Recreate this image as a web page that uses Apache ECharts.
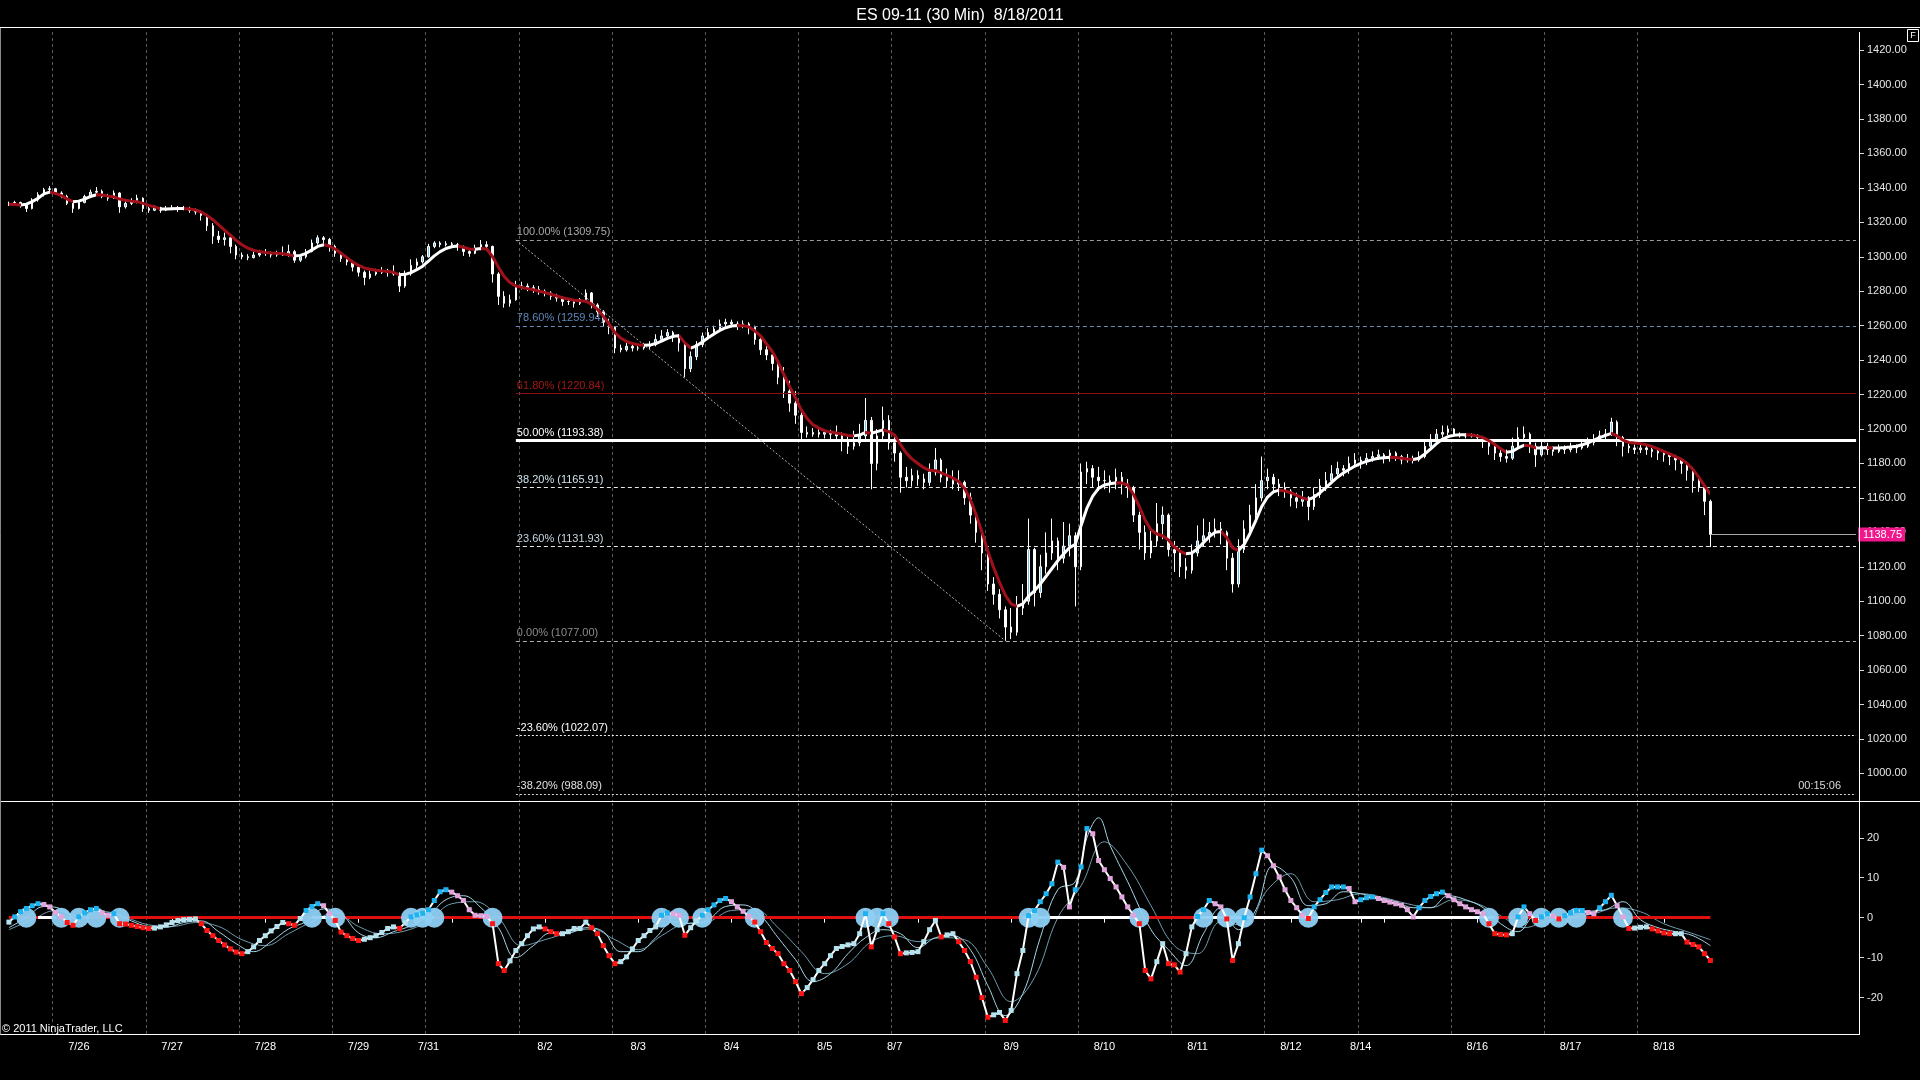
<!DOCTYPE html>
<html>
<head>
<meta charset="utf-8">
<title>ES 09-11 (30 Min) 8/18/2011</title>
<script src="https://cdn.jsdelivr.net/npm/echarts@6.0.0/dist/echarts.min.js"></script>
<style>
html, body { margin: 0; padding: 0; background: #000; }
#chart { width: 1920px; height: 1080px; }
</style>
</head>
<body>
<div id="chart"></div>
<script>
var FONT = '"Liberation Sans", Arial, sans-serif';

// price bars [open, high, low, close], one per bar from 7/25 evening to 8/18
var bars = [
[1330.5,1332,1329.5,1331],[1331,1332.5,1330,1331.5],[1331.5,1332,1328.5,1330],[1330,1331,1326,1328],[1328,1334,1327.5,1333],[1333,1337.5,1332,1336],[1336,1340,1335,1339],[1339,1341,1337.5,1339.5],
[1339.5,1340,1336,1337],[1337,1338,1334,1335],[1335,1336,1330,1331],[1331,1332,1325.5,1328],[1328,1333,1327.5,1331.5],[1331.5,1336,1331,1335],[1335,1339,1334,1337.5],[1337.5,1340.5,1336.5,1338],
[1338,1339,1334,1335],[1335,1336.5,1332.5,1334],[1334,1338.5,1333.5,1337],[1337,1337.5,1325.5,1329],[1329,1332.5,1328,1331],[1331,1334,1330,1332],[1332,1336,1331,1334],[1334,1334.5,1326,1328],
[1328,1330,1325.5,1327],[1327,1330,1326.5,1328.5],[1328.5,1329,1325.5,1327],[1327,1329.5,1326.5,1328],[1328,1330,1327,1328.5],[1328.5,1329.5,1326,1327.5],[1327.5,1329.5,1327,1328],[1328,1329,1325.5,1327],
[1327,1328,1324.5,1326],[1326,1327,1321,1324],[1324,1324.5,1315,1318],[1318,1319.5,1307.5,1312],[1312,1315,1308,1310],[1310,1314,1306.5,1311],[1311,1312,1302,1306],[1306,1307,1298.5,1301],
[1301,1302.5,1298.5,1300],[1300,1301.5,1298,1299.5],[1299.5,1303,1299,1301],[1301,1304,1300,1302],[1302,1304.5,1300.5,1302.5],[1302.5,1303,1299.5,1301],[1301,1303.5,1300,1302],[1302,1306,1300.5,1301],
[1301,1307,1300,1303],[1303,1304,1296.5,1298],[1298,1301.5,1297,1300],[1300,1304.5,1299,1303],[1303,1310,1302.5,1308],[1308,1312.5,1307,1311],[1311,1312,1308,1310],[1310,1311,1303,1306],
[1306,1307,1300,1302],[1302,1303,1297,1299],[1299,1300.5,1295,1297],[1297,1298,1291.5,1294],[1294,1295,1288.5,1291],[1291,1292,1283.5,1288],[1288,1292,1287,1290],[1290,1293,1289,1291],
[1291,1294,1290,1292],[1292,1293,1288.5,1291],[1291,1295,1289,1290],[1290,1291,1279.5,1283],[1283,1292,1282,1290],[1290,1298.5,1289,1295],[1295,1299,1293,1297],[1297,1301,1296,1300],
[1300,1307.5,1299.5,1306],[1306,1309,1305,1308],[1308,1309,1305.5,1307],[1307,1309,1306,1307.5],[1307.5,1308.5,1305.5,1307],[1307,1308,1303.5,1306],[1306,1306.5,1300.5,1303],[1303,1304.5,1300,1302],
[1302,1307,1301.5,1305],[1305,1309.75,1304,1307],[1307,1309,1304.5,1306],[1306,1306.5,1285,1290],[1290,1291,1272,1277],[1277,1280,1270.5,1273],[1273,1278,1271,1275],[1275,1286,1274.5,1283],
[1283,1285.5,1281,1283],[1283,1284.5,1280,1282],[1282,1283.5,1279,1281],[1281,1283,1278,1280],[1280,1281,1277,1279],[1279,1280,1275,1277],[1277,1278.5,1274,1276],[1276,1277,1271.5,1274],
[1274,1276,1272,1274],[1274,1275,1270.5,1273],[1273,1276,1272,1275],[1275,1281,1274,1279],[1279,1279.5,1270,1272],[1272,1273,1265,1268],[1268,1269,1259.5,1262],[1262,1264,1255,1259],
[1259,1259.5,1244,1247],[1247,1249,1244.5,1246],[1246,1250,1245,1248],[1248,1249.5,1245,1247],[1247,1249,1245.5,1247],[1247,1250,1246,1248],[1248,1251,1246.5,1249],[1249,1255,1248,1252],
[1252,1257.5,1251,1254],[1254,1258,1252.5,1256],[1256,1257,1250.5,1253],[1253,1255,1245,1250],[1250,1251,1230,1235],[1235,1245,1233,1242],[1242,1251,1240,1249],[1249,1256,1247.5,1254],
[1254,1258.5,1253,1256],[1256,1260,1254.5,1258],[1258,1263.5,1257,1261],[1261,1264,1259.5,1262],[1262,1263.5,1259,1261],[1261,1262.5,1257.5,1260],[1260,1263,1258.5,1261],[1261,1262,1255,1259],
[1259,1260,1249,1252],[1252,1254,1243,1246],[1246,1249,1240,1243],[1243,1245,1234,1238],[1238,1240,1226,1230],[1230,1236,1218,1222],[1222,1228,1210,1215],[1215,1222,1203,1208],
[1208,1210,1194,1198],[1198,1201.5,1195,1197],[1197,1200.5,1195.5,1198],[1198,1201,1195,1197],[1197,1200,1194.5,1198],[1198,1199.5,1194,1197],[1197,1202,1193.5,1196],[1196,1198,1187,1193],
[1193,1197,1185.5,1190],[1190,1199,1188,1192],[1192,1203,1190,1196],[1196,1218,1194,1205],[1205,1207,1165,1180],[1180,1200,1176,1196],[1196,1213,1193,1205],[1205,1208,1188,1192],
[1192,1196,1181,1186],[1186,1187,1163,1172],[1172,1178,1166,1170],[1170,1177,1166.5,1173],[1173,1176,1167,1171],[1171,1174,1165,1169],[1169,1180,1167,1175],[1175,1189,1173,1182],
[1182,1183,1169,1172],[1172,1177,1166,1170],[1170,1176,1165,1168],[1168,1176,1164,1169],[1169,1170,1156,1160],[1160,1163,1145,1150],[1150,1152,1134,1140],[1140,1143,1118,1128],
[1128,1131,1106,1110],[1110,1114,1098,1104],[1104,1107,1090,1095],[1095,1097,1077,1085],[1085,1096,1078,1082],[1082,1103,1080,1096],[1096,1110,1092,1100],[1100,1148,1098,1130],
[1130,1131,1097,1105],[1105,1127,1102,1120],[1120,1140,1116,1128],[1128,1148,1124,1135],[1135,1137,1118,1125],[1125,1146,1122,1132],[1132,1145,1126,1138],[1138,1140,1097,1120],
[1120,1180,1118,1175],[1175,1181,1168,1177],[1177,1179,1166,1172],[1172,1178,1164,1170],[1170,1176,1165,1170],[1170,1173,1163,1168],[1168,1177,1165,1172],[1172,1175,1162,1168],
[1168,1171,1160,1166],[1166,1167,1146,1150],[1150,1152,1130,1140],[1140,1144,1124,1128],[1128,1142,1125,1135],[1135,1157,1132,1145],[1145,1155,1136,1150],[1150,1151,1126,1130],
[1130,1135,1117,1128],[1128,1131,1114,1120],[1120,1125,1113,1118],[1118,1133,1116,1128],[1128,1144,1126,1135],[1135,1148,1132,1138],[1138,1146,1134,1140],[1140,1148,1137,1142],
[1142,1146,1133,1140],[1140,1141,1118,1125],[1125,1128,1105,1110],[1110,1136,1108,1130],[1130,1147,1128,1142],[1142,1156,1140,1150],[1150,1168,1147,1160],[1160,1184,1158,1170],
[1170,1177,1165,1172],[1172,1174,1163,1168],[1168,1171,1161,1166],[1166,1169,1160,1164],[1164,1165,1155,1160],[1160,1163,1154,1158],[1158,1164,1155,1160],[1160,1161,1147,1155],
[1155,1166,1153,1162],[1162,1171,1160,1167],[1167,1175,1164,1170],[1170,1179,1168,1174],[1174,1181,1172,1177],[1177,1179,1172.5,1176],[1176,1184,1174,1180],[1180,1186,1178,1182],
[1182,1184,1177,1181],[1181,1186,1179,1183],[1183,1187,1181,1184],[1184,1188,1182,1185],[1185,1186,1180,1183],[1183,1188,1181,1186],[1186,1187,1181.5,1184],[1184,1185,1179.5,1182],
[1182,1185.5,1180.5,1183],[1183,1184.5,1180,1182],[1182,1187,1181,1184],[1184,1193,1183,1190],[1190,1197,1188.5,1194],[1194,1200,1192,1197],[1197,1202,1195,1198],[1198,1202,1196.5,1200],
[1200,1200.5,1195.5,1197],[1197,1198,1195,1196],[1196,1197.5,1194.5,1196],[1196,1197.5,1195,1196],[1196,1197,1193,1195],[1195,1196,1189,1193],[1193,1194,1185,1190],[1190,1192,1182,1186],
[1186,1189,1181,1184],[1184,1188,1180.5,1183],[1183,1195,1182,1190],[1190,1201,1188,1195],[1195,1201.5,1193,1197],[1197,1198,1186,1190],[1190,1192,1178,1185],[1185,1194,1184,1190],
[1190,1192,1185,1188],[1188,1190,1184.5,1187],[1187,1191,1186,1189],[1189,1190.5,1185.5,1188],[1188,1192,1186.5,1190],[1190,1191,1186,1189],[1189,1193,1188,1190],[1190,1195,1189,1192],
[1192,1197,1190.5,1194],[1194,1199,1193,1196],[1196,1200,1194,1197],[1197,1206.5,1196,1204],[1204,1205,1190,1195],[1195,1196,1184,1190],[1190,1193,1186,1189],[1189,1191,1185.5,1188],
[1188,1192,1186,1189],[1189,1190.5,1185,1188],[1188,1189.5,1183.5,1187],[1187,1188,1182,1186],[1186,1187.5,1181,1185],[1185,1186,1179,1184],[1184,1185,1176,1182],[1182,1183,1174,1180],
[1180,1181,1170,1176],[1176,1178,1163,1170],[1170,1173,1163.5,1166],[1166,1168,1150,1158],[1158,1159,1131.5,1138.75]
];

// moving average drawn over the bars
var ma = [
1330.5,1330.3,1330,1330.5,1332,1334,1336.5,1337.5,1336.8,1335.5,
1333.5,1332,1332.3,1333.5,1335,1336,1335.8,1335.2,1334.8,1333.5,
1332.8,1332.3,1332,1331,1329.8,1329,1327.8,1327.8,1327.9,1328,
1328,1327.8,1327.2,1326,1324,1321.5,1318.5,1315.5,1312.5,1309.5,
1307,1305,1303.8,1303,1302.5,1302.2,1302,1301.8,1301.2,1300.5,
1300.8,1302,1304,1306,1307,1306.2,1304.5,1302,1299.5,1297,
1295,1293.5,1292.8,1292.2,1291.8,1291.4,1291,1289.5,1289.8,1290.8,
1292.5,1294.5,1297.5,1300.5,1303,1304.8,1305.8,1306.2,1305.5,1304.5,
1304.3,1304.8,1304.5,1300,1294,1288.5,1285,1283,1282.2,1281.5,
1280.8,1280,1279.2,1278.2,1277.2,1276.2,1275.5,1274.8,1274.4,1274.2,
1272.5,1269.5,1265.5,1261,1256,1252.8,1250.8,1249.6,1248.9,1248.6,
1248.7,1249.6,1251,1252.6,1253.8,1254.2,1250,1247,1248.3,1250.5,
1253,1255.2,1257.2,1258.8,1259.8,1260.1,1260,1259.2,1257,1254,
1249.5,1245,1239,1231.5,1224.5,1218,1211,1206,1202.5,1200.5,
1199,1198.2,1197.7,1197,1196.2,1196,1196.5,1198,1197.5,1198.5,
1199.5,1198.5,1196.5,1191,1186,1182.5,1180,1177.5,1176,1175.8,
1174.5,1173,1171.5,1169.5,1165.5,1159,1150,1140,1129,1119.5,
1111,1103.5,1098.5,1097,1098.5,1103,1106,1110,1114.5,1119,
1123.5,1127.5,1131,1133,1144,1154,1161,1165.5,1167.5,1168.2,
1168.8,1168.6,1167.5,1162,1155,1147,1141.5,1139,1138,1135.5,
1131.5,1129,1127.5,1128,1130.5,1134,1137.5,1140,1140.5,1137,
1131,1129.5,1133,1139.5,1147,1155,1160.5,1163.5,1164.5,1164,
1163,1161.5,1160,1159,1160.5,1163,1166,1169,1172,1174.5,
1176.5,1178.5,1180,1181.2,1182.2,1183,1183.3,1183.6,1183.5,1183,
1182.5,1182.3,1183,1185.5,1188.5,1191.5,1194,1195.6,1196.3,1196.6,
1196.7,1196.5,1196,1195,1193.2,1191,1188.5,1186.5,1187,1189,
1190.5,1190.3,1189,1189,1189.2,1189,1189,1189.2,1189.5,1190,
1190.8,1192,1193.5,1195,1196.3,1197.5,1196,1193.5,1192.2,1191.8,
1191.5,1190.8,1189.8,1188.5,1187,1185.5,1184,1182.5,1180,1176.5,
1172,1167,1162
];

// lower panel oscillator
var osc = [
-1.1,0.2,1.5,2.3,3,3.5,3.3,2.7,1.3,0.2,
-1.2,-1.9,0.2,1.2,2,2.3,1.2,0.6,1,-1.5,
-1.6,-1.9,-2.2,-2.5,-2.7,-2.6,-2.3,-1.8,-1.2,-0.7,
-0.5,-0.4,-0.3,-1.5,-3.2,-4.5,-5.7,-6.8,-7.8,-8.6,
-9,-8.5,-7.3,-5.7,-4.5,-3.3,-2.2,-1.2,-1.5,-1.9,
-0.2,1.8,2.8,3.5,3,1,-0.7,-3.6,-4.5,-5.2,
-5.7,-5.4,-5,-4.5,-3.7,-2.7,-2.3,-2.7,-1.3,0.2,
0.7,1.1,2,4.3,6.5,7,6.4,5.5,4.3,2,
0.6,0.5,0.3,-1.5,-11.5,-13.2,-10.8,-8.2,-6.5,-4.5,
-2.8,-2.3,-2.8,-3.5,-4,-4,-3.5,-2.7,-2.7,-1.1,
-2.5,-4,-7,-9.5,-11.5,-11,-9.8,-7.8,-5.7,-4.5,
-3.2,-2.3,0.6,1.2,1,0.6,-4.4,-2.5,-0.8,0.6,
2,3.2,4.3,4.8,4,2.7,1.6,0.3,-1.1,-3.5,
-6.2,-7.7,-9,-11.5,-13.2,-16,-19,-17.5,-15.5,-13.2,
-11.5,-9.5,-7.7,-7.2,-6.8,-6.5,-4,1,-7.3,-3,
1,-1.5,-4.8,-9,-8.8,-8.7,-8.5,-6,-3,-0.7,
-4.8,-4.3,-4,-6,-8.2,-11,-14.9,-20,-24.9,-24.3,
-23.7,-25.7,-23.2,-14,-8.2,0.5,1.8,4,6,8.5,
13.9,12.6,2.7,7,12.7,22.3,21,14.3,12,9.8,
7.7,5.2,2.7,0.6,-1.5,-13.2,-15.3,-11,-6.5,-11.5,
-11.8,-13.6,-9,-2.3,0.3,2,4.3,3.5,2.7,-0.3,
-10.7,-6.5,0,5.2,11,16.9,15.5,13,10.2,7,
4.3,2.5,0.6,-0.2,2.7,4.5,6.3,7.7,7.7,7.7,
7.3,4,4.5,5,5.2,4.8,4.3,3.9,3.5,3.1,
2,0.2,2.5,4.3,5.3,6,6.4,5.5,4.5,3.5,
2.7,2,1.5,1,-1.5,-4,-4.2,-4.3,-4,0.2,
2.7,1,-0.7,0.2,1,0.4,-0.3,0.5,1.2,1.8,
1.8,1.3,1,2.5,4,5.6,3,0.2,-2.7,-2.6,
-2.4,-2.3,-2.8,-3.3,-3.8,-4,-4,-4,-6.1,-6.7,
-7.3,-9,-10.7
];

// the two thin signal lines of the oscillator, [bar, value]
var sigFast = [[0,-2.5],[3,0],[6,2.8],[9,2.2],[12,-0.5],[15,1.5],[18,1.2],[21,-0.8],[24,-2.2],[27,-2.4],[30,-1.2],[33,-0.8],[36,-3.5],[39,-6.5],[42,-8.5],[45,-6],[48,-2.8],[51,-1],[54,2.2],[57,1],[60,-3.8],[63,-5],[66,-3.5],[69,-2],[72,0.5],[75,4.5],[78,5.5],[81,2.5],[84,-2.5],[87,-10],[90,-7],[93,-3.8],[96,-3.8],[99,-2.5],[102,-3.5],[105,-8.5],[108,-8.5],[111,-5],[114,-1],[117,-1.5],[120,-0.5],[123,2.8],[126,3.2],[129,0.5],[132,-5],[135,-10.5],[138,-16],[141,-14],[144,-9],[147,-5],[150,-3],[153,-4],[156,-7.5],[159,-5],[162,-4.5],[165,-8],[168,-17],[171,-24.5],[174,-19],[177,-5],[180,7],[183,9],[185,20],[187,25],[189,18],[192,9],[196,-3],[199,-8],[202,-12],[205,-4],[208,2.5],[211,-3],[214,2],[217,13],[220,10],[223,3],[226,3.5],[229,6.5],[232,6],[235,5],[238,4],[241,2.5],[244,2.5],[247,5.5],[250,4.5],[253,2.5],[256,-1.5],[259,-3.5],[262,0.5],[265,0.3],[268,0],[271,1.5],[274,2],[277,4],[280,-0.5],[283,-2.5],[286,-3.5],[289,-4.5],[292,-7]];
var sigSlow = [[0,-3],[4,-0.5],[8,1.8],[12,0.5],[16,0.8],[20,0],[24,-1.8],[28,-2.2],[32,-1.2],[36,-2.2],[40,-5.5],[44,-7],[48,-4],[52,-1],[56,1.2],[60,-2.2],[64,-4],[68,-3.3],[72,-0.8],[76,3.5],[80,4],[84,0],[88,-7],[92,-5.5],[96,-3.8],[100,-2.8],[104,-5.5],[108,-8],[112,-4.5],[116,-1.5],[120,-1],[124,1.8],[128,2],[132,-2.5],[136,-8.5],[140,-14],[144,-11.5],[148,-6],[152,-4.5],[156,-6],[160,-5],[164,-5.5],[168,-12.5],[172,-21],[176,-15],[180,0],[184,8],[188,19],[192,13],[196,3],[200,-7],[204,-9],[208,-1],[212,-2],[216,7],[220,11],[224,4],[228,4.5],[232,6],[236,5],[240,3.5],[244,2.5],[248,4.5],[252,3.5],[256,0.5],[260,-2.5],[264,-0.8],[268,0],[272,1],[276,2.5],[280,1.5],[284,-1.5],[288,-3.5],[292,-5.5]];

// zero crossings marked with a bubble, and the stretches where the zero line is white
var crossIdx = [3,9,12,15,19,52,56,69,71,73,83,112,115,119,128,147,149,151,175,177,194,205,209,212,223,254,259,263,266,269,277];
var zeroWhite = [[5,8],[52,56],[70,73],[174,193],[204,255]];

// fibonacci retracement from the 1309.75 high to the 1077.00 low
var fibPct = [100, 78.6, 61.8, 50, 38.2, 23.6, 0, -23.6, -38.2];
var fibPrice = [1309.75, 1259.94, 1220.84, 1193.38, 1165.91, 1131.93, 1077.00, 1022.07, 988.09];
var fibFrom = 87, fibTo = 171;
var lastPrice = 1138.75;

// x axis
var sessionStarts = [8,24,40,56,72,88,104,120,136,152,168,184,200,216,232,248,264,280];
var labelIdx = [12,28,44,60,72,76,92,108,124,140,152,156,172,188,204,220,232,236,252,268,284];
var labelTxt = ['7/26','7/27','7/28','7/29','7/31','','8/2','8/3','8/4','8/5','8/7','','8/9','8/10','8/11','8/12','8/14','','8/16','8/17','8/18'];
var slotCount = 318;

var fibStyle = [
    {line: '#9a9a9a', text: '#a8a8a8', type: [4, 3], width: 1},
    {line: '#6a8cb4', text: '#5f86b8', type: [4, 3], width: 1},
    {line: '#8b1010', text: '#a31818', type: 'solid', width: 1},
    {line: '#ffffff', text: '#ffffff', type: 'solid', width: 3},
    {line: '#e8e8e8', text: '#cfe2ec', type: [4, 3], width: 1},
    {line: '#e8e8e8', text: '#c8d6e0', type: [4, 3], width: 1},
    {line: '#b0b0b0', text: '#8c8c8c', type: [4, 3], width: 1},
    {line: '#f0f0f0', text: '#ffffff', type: [2, 2], width: 1},
    {line: '#d8d8d8', text: '#e0e0e0', type: [2, 2], width: 1}
];

var cats = [];
for (var i = 0; i < slotCount; i++) cats.push(String(i));

function isSession(idx) { return sessionStarts.indexOf(idx) >= 0; }
function isLabel(idx) { return labelIdx.indexOf(idx) >= 0; }

// MA colour: white while rising, dark red while falling
function trendPieces(vals, upColor, downColor) {
    var pieces = [];
    var start = 0;
    var up = vals[1] >= vals[0];
    for (var i = 2; i < vals.length; i++) {
        var u = vals[i] >= vals[i - 1];
        if (u !== up) {
            pieces.push({gte: start, lt: i - 1, color: up ? upColor : downColor});
            start = i - 1;
            up = u;
        }
    }
    pieces.push({gte: start, lte: vals.length - 1, color: up ? upColor : downColor});
    return pieces;
}

function oscColor(i) {
    var v = osc[i];
    var prev = i > 0 ? osc[i - 1] : v;
    var rising = v >= prev;
    if (v >= 0) return rising ? '#1db2f0' : '#e2a4dc';
    return rising ? '#b4e2ee' : '#ff1414';
}

var candles = bars.map(function (b) { return [b[0], b[3], b[2], b[1]]; });

var fibLines = [];
for (var f = 0; f < fibPct.length; f++) {
    var st = fibStyle[f];
    fibLines.push([
        {
            coord: [fibFrom, fibPrice[f]],
            lineStyle: {color: st.line, type: st.type, width: st.width},
            label: {
                show: true, position: 'insideStartTop', distance: [1, 2],
                formatter: fibPct[f].toFixed(2) + '% (' + fibPrice[f].toFixed(2) + ')',
                color: st.text, fontSize: 11, fontFamily: FONT
            }
        },
        {coord: [slotCount - 1, fibPrice[f]]}
    ]);
}
fibLines.push([
    {coord: [fibFrom, fibPrice[0]], lineStyle: {color: '#b4b4b4', type: [2, 2], width: 1}, label: {show: false}},
    {coord: [fibTo, fibPrice[6]]}
]);

var zeroLines = [[
    {coord: [0, 0], lineStyle: {color: '#e01010', width: 3, type: 'solid'}},
    {coord: [osc.length - 1, 0]}
]];
zeroWhite.forEach(function (r) {
    zeroLines.push([
        {coord: [r[0], 0], lineStyle: {color: '#ffffff', width: 3, type: 'solid'}},
        {coord: [r[1], 0]}
    ]);
});

var chart = echarts.init(document.getElementById('chart'));

var option = {
    backgroundColor: '#000000',
    animation: false,
    title: {
        text: 'ES 09-11 (30 Min)  8/18/2011',
        left: 'center',
        top: 3,
        textStyle: {color: '#ffffff', fontSize: 16, fontWeight: 'normal', fontFamily: FONT}
    },
    grid: [
        {left: 6, right: 61, top: 32, height: 769},
        {left: 6, right: 61, top: 803, height: 231}
    ],
    xAxis: [
        {
            gridIndex: 0, type: 'category', data: cats, boundaryGap: true,
            axisLine: {show: false}, axisTick: {show: false}, axisLabel: {show: false},
            splitLine: {show: true, interval: isSession, lineStyle: {color: '#5a5a5a', type: [3, 3], width: 1}}
        },
        {
            gridIndex: 1, type: 'category', data: cats, boundaryGap: true,
            axisLine: {show: false},
            axisTick: {show: true, alignWithLabel: true, interval: isLabel, length: 5, lineStyle: {color: '#ffffff'}},
            axisLabel: {
                show: true, interval: isLabel, margin: 7, color: '#ffffff', fontSize: 11, fontFamily: FONT,
                formatter: function (val, idx) {
                    var k = labelIdx.indexOf(idx);
                    return k >= 0 ? labelTxt[k] : '';
                }
            },
            splitLine: {show: true, interval: isSession, lineStyle: {color: '#5a5a5a', type: [3, 3], width: 1}}
        }
    ],
    yAxis: [
        {
            gridIndex: 0, type: 'value', position: 'right', min: 984, max: 1430.5,
            minInterval: 20, maxInterval: 20,
            axisLine: {show: false},
            axisTick: {show: true, length: 5, lineStyle: {color: '#d8d8d8'}},
            axisLabel: {
                color: '#e6e6e6', fontSize: 11, fontFamily: FONT, margin: 8,
                showMinLabel: false, showMaxLabel: false,
                formatter: function (v) { return v.toFixed(2); }
            },
            splitLine: {show: false}
        },
        {
            gridIndex: 1, type: 'value', position: 'right', min: -29.1, max: 28.7,
            minInterval: 10, maxInterval: 10,
            axisLine: {show: false},
            axisTick: {show: true, length: 5, lineStyle: {color: '#d8d8d8'}},
            axisLabel: {color: '#e6e6e6', fontSize: 11, fontFamily: FONT, margin: 8, showMinLabel: false, showMaxLabel: false},
            splitLine: {show: false}
        }
    ],
    visualMap: [{
        type: 'piecewise', show: false, seriesIndex: 1, dimension: 0,
        pieces: trendPieces(ma, '#ffffff', '#a0101a')
    }],
    graphic: [
        {type: 'line', z: 100, silent: true, shape: {x1: 0, y1: 27.5, x2: 1920, y2: 27.5}, style: {stroke: '#ffffff', lineWidth: 1}},
        {type: 'line', z: 100, silent: true, shape: {x1: 0, y1: 801.5, x2: 1920, y2: 801.5}, style: {stroke: '#ffffff', lineWidth: 1}},
        {type: 'line', z: 100, silent: true, shape: {x1: 0, y1: 1034.5, x2: 1860, y2: 1034.5}, style: {stroke: '#ffffff', lineWidth: 1}},
        {type: 'line', z: 100, silent: true, shape: {x1: 1859.5, y1: 32, x2: 1859.5, y2: 1034.5}, style: {stroke: '#ffffff', lineWidth: 1}},
        {type: 'line', z: 100, silent: true, shape: {x1: 0.5, y1: 28, x2: 0.5, y2: 1034.5}, style: {stroke: '#8a8a8a', lineWidth: 1}},
        {type: 'rect', z: 100, silent: true, shape: {x: 1907.5, y: 29.5, width: 11, height: 12}, style: {fill: '#000000', stroke: '#ffffff', lineWidth: 1}},
        {type: 'text', z: 101, silent: true, x: 1913, y: 36, style: {text: 'F', fill: '#ffffff', font: '9px ' + FONT, align: 'center', verticalAlign: 'middle'}},
        {type: 'text', z: 101, silent: true, x: 2, y: 1029, style: {text: '\u00a9 2011 NinjaTrader, LLC', fill: '#ffffff', font: '11px ' + FONT, align: 'left', verticalAlign: 'middle'}},
        {type: 'text', z: 101, silent: true, x: 1841, y: 786, style: {text: '00:15:06', fill: '#d8d8d8', font: '11px ' + FONT, align: 'right', verticalAlign: 'middle'}}
    ],
    series: [
        {
            name: 'ES', type: 'candlestick', xAxisIndex: 0, yAxisIndex: 0, z: 2,
            data: candles, barWidth: 2,
            itemStyle: {color: '#72c2ec', color0: '#ffffff', borderColor: '#ffffff', borderColor0: '#ffffff', borderWidth: 1},
            markLine: {silent: true, symbol: 'none', z: 3, animation: false, data: fibLines}
        },
        {
            name: 'MA', type: 'line', xAxisIndex: 0, yAxisIndex: 0, z: 4,
            data: ma, showSymbol: false, symbol: 'none',
            lineStyle: {width: 3}
        },
        {
            name: 'Last', type: 'line', xAxisIndex: 0, yAxisIndex: 0, z: 5,
            data: [[bars.length - 1, lastPrice]], showSymbol: false, symbol: 'none',
            markLine: {
                silent: true, symbol: 'none', z: 10, animation: false,
                lineStyle: {color: '#a8a8a8', width: 1, type: 'solid'},
                label: {
                    show: true, position: 'end', distance: 2, formatter: lastPrice.toFixed(2),
                    backgroundColor: '#f0168c', color: '#ffffff', fontSize: 11, fontFamily: FONT,
                    padding: [2, 3, 1, 5]
                },
                data: [[{coord: [bars.length - 1, lastPrice]}, {coord: [slotCount - 1, lastPrice]}]]
            }
        },
        {
            name: 'Signal slow', type: 'line', xAxisIndex: 1, yAxisIndex: 1, z: 2,
            data: sigSlow, showSymbol: false, symbol: 'none', smooth: 0.4,
            lineStyle: {color: '#6e9cad', width: 1},
            markLine: {silent: true, symbol: 'none', z: 3, animation: false, label: {show: false}, data: zeroLines}
        },
        {
            name: 'Signal fast', type: 'line', xAxisIndex: 1, yAxisIndex: 1, z: 4,
            data: sigFast, showSymbol: false, symbol: 'none', smooth: 0.4,
            lineStyle: {color: '#a6d6e6', width: 1}
        },
        {
            name: 'Cross', type: 'scatter', xAxisIndex: 1, yAxisIndex: 1, z: 6,
            data: crossIdx.map(function (k) { return [k, 0]; }),
            symbol: 'circle', symbolSize: 20,
            itemStyle: {color: '#8ed0f4', opacity: 0.95}
        },
        {
            name: 'Osc', type: 'line', xAxisIndex: 1, yAxisIndex: 1, z: 7,
            data: osc, symbol: 'rect', symbolSize: 5, showSymbol: true, showAllSymbol: true,
            lineStyle: {color: '#ffffff', width: 2},
            itemStyle: {color: function (p) { return oscColor(p.dataIndex); }}
        }
    ]
};

chart.setOption(option);
</script>
</body>
</html>
